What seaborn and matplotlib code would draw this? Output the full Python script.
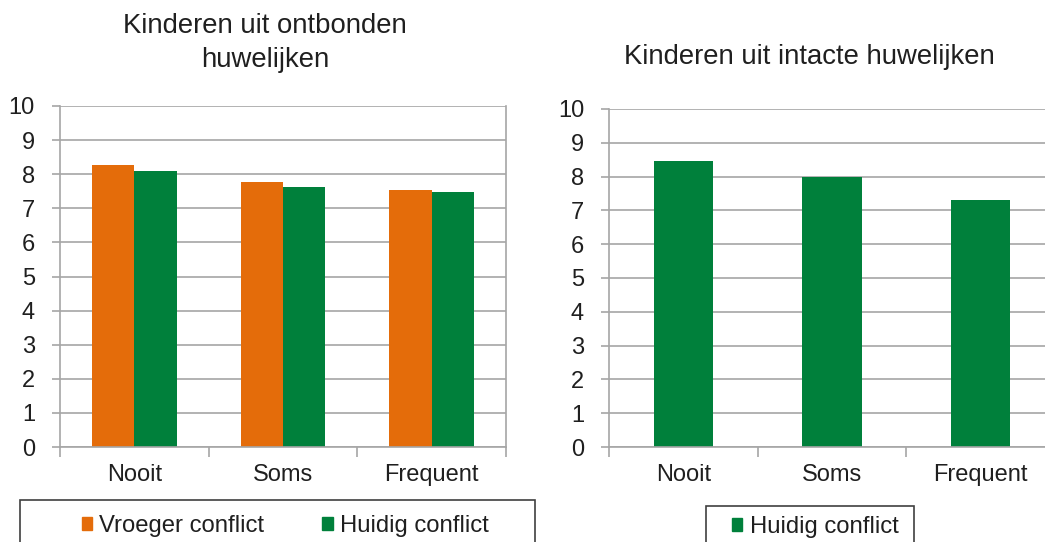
import pandas as pd
import matplotlib.pyplot as plt
import matplotlib.ticker as mticker
from matplotlib.patches import Patch, Rectangle
import seaborn as sns

sns.set_style("white")
plt.rcParams['font.family'] = ['Liberation Sans', 'DejaVu Sans']
plt.rcParams['text.color'] = '#1f1f1f'
plt.rcParams['xtick.color'] = '#1f1f1f'
plt.rcParams['ytick.color'] = '#1f1f1f'

# data
categorieen = ['Nooit', 'Soms', 'Frequent']
vroeger_ontbonden = [8.26, 7.77, 7.55]
huidig_ontbonden = [8.08, 7.62, 7.47]
huidig_intact = [8.46, 8.00, 7.31]
reeksen = ['Vroeger conflict', 'Huidig conflict']
y_ticks = list(range(0, 11))

ORANJE = '#E46C0A'
GROEN = '#00803B'
GRIJS = '#A6A6A6'

df_ontbonden = pd.DataFrame({
    'categorie': categorieen * 2,
    'score': vroeger_ontbonden + huidig_ontbonden,
    'reeks': [reeksen[0]] * 3 + [reeksen[1]] * 3,
})
df_intact = pd.DataFrame({'categorie': categorieen, 'score': huidig_intact})

W, H = 1045, 542
fig = plt.figure(figsize=(W / 100, H / 100), dpi=100)
ax1 = fig.add_axes([60 / W, (H - 447) / H, 446 / W, 341 / H])
ax2 = fig.add_axes([609 / W, (H - 447) / H, 446 / W, 338 / H])

sns.barplot(data=df_ontbonden, x='categorie', y='score', hue='reeks',
            palette=[ORANJE, GROEN], width=0.57, saturation=1, legend=False,
            linewidth=0, ax=ax1)
sns.barplot(data=df_intact, x='categorie', y='score', color=GROEN,
            width=0.40, saturation=1, linewidth=0, ax=ax2)

for ax in (ax1, ax2):
    ax.set_xlim(-0.5, 2.5)
    ax.set_ylim(0, 10)
    ax.set_yticks(y_ticks)
    ax.set_xlabel('')
    ax.set_ylabel('')
    ax.set_axisbelow(True)
    ax.yaxis.grid(True, color=GRIJS, lw=1.2)
    ax.xaxis.set_minor_locator(mticker.FixedLocator([-0.5, 0.5, 1.5, 2.5]))
    ax.tick_params(axis='x', which='major', length=0, pad=12, labelsize=17)
    ax.tick_params(axis='x', which='minor', length=7, width=1.2, color=GRIJS, bottom=True)
    ax.tick_params(axis='y', length=6, width=1.2, color=GRIJS, pad=12, labelsize=17, left=True)
    for side in ('left', 'bottom', 'right'):
        ax.spines[side].set_color(GRIJS)
        ax.spines[side].set_linewidth(1.2)
    ax.spines['top'].set_visible(False)
ax2.spines['right'].set_visible(False)

fig.text(265 / W, 1 - 26 / H, 'Kinderen uit ontbonden', ha='center', va='center', fontsize=19.8)
fig.text(265 / W, 1 - 60 / H, 'huwelijken', ha='center', va='center', fontsize=19.8)
fig.text(809 / W, 1 - 57 / H, 'Kinderen uit intacte huwelijken', ha='center', va='center', fontsize=19.8)

# legends
fig.patches.append(Rectangle((20 / W, -0.05), 515 / W, (0.05 + (H - 500) / H),
                             transform=fig.transFigure, fill=False, ec='#404040', lw=1.2))
fig.patches.append(Rectangle((706 / W, -0.05), 208 / W, (0.05 + (H - 506) / H),
                             transform=fig.transFigure, fill=False, ec='#404040', lw=1.2))

h1 = [Patch(color=ORANJE, label=reeksen[0]), Patch(color=GROEN, label=reeksen[1])]
fig.legend(handles=h1, loc='center', bbox_to_anchor=(285 / W, (H - 526) / H), ncol=2,
           frameon=False, fontsize=17.2, handlelength=0.45, handleheight=0.45,
           handletextpad=0.3, columnspacing=2.4, borderpad=0)
h2 = [Patch(color=GROEN, label=reeksen[1])]
fig.legend(handles=h2, loc='center', bbox_to_anchor=(815 / W, (H - 527) / H),
           frameon=False, fontsize=17.2, handlelength=0.45, handleheight=0.45,
           handletextpad=0.3, borderpad=0)

fig.savefig('out.png', dpi=100)
